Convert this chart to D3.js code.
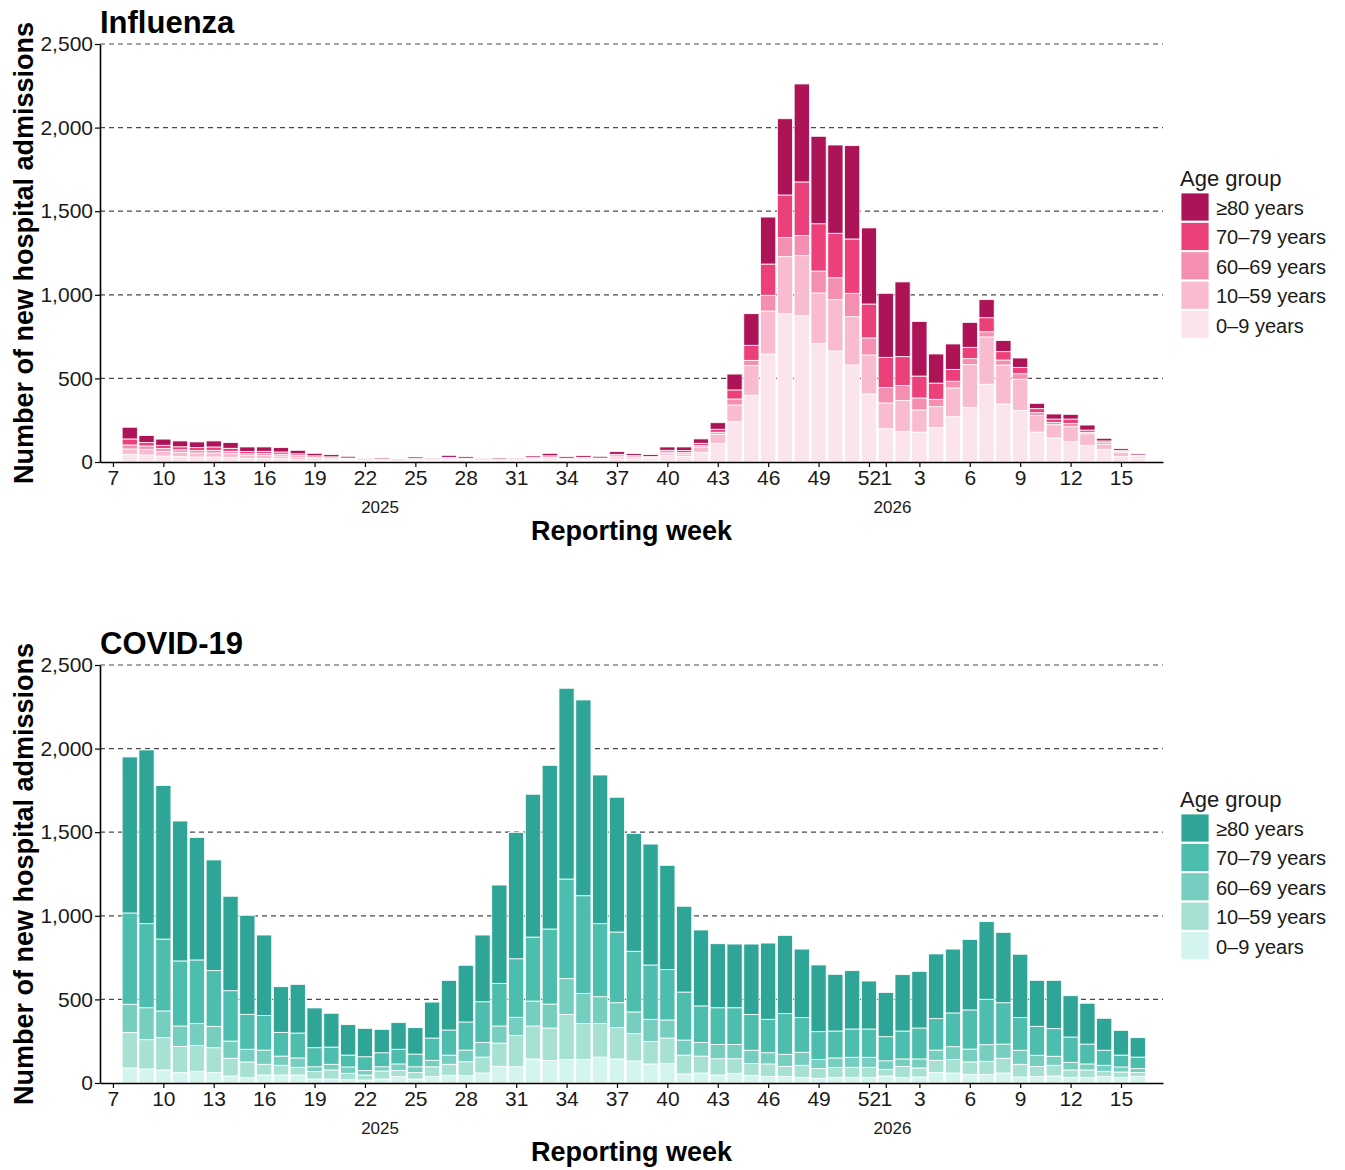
<!DOCTYPE html>
<html>
<head>
<meta charset="utf-8">
<script src="https://cdn.jsdelivr.net/npm/d3@7"></script>
<style>
  body { margin: 0; background: #fff; }
  svg { display: block; }
  text { font-family: "Liberation Sans", Arial, Helvetica, sans-serif; }
</style>
</head>
<body>
<svg></svg>
<script>
var width = 1345;
var height = 1170;

// reporting weeks: 2025 W8..W52, then 2026 W1..W16
var weeks2025 = d3.range(8, 53);
var weeks2026 = d3.range(1, 17);

var xTicks2025 = [7, 10, 13, 16, 19, 22, 25, 28, 31, 34, 37, 40, 43, 46, 49, 52];
var xTicks2026 = [1, 3, 6, 9, 12, 15];
var yTicks = [0, 500, 1000, 1500, 2000, 2500];

var ageKeys = ['a0_9', 'a10_59', 'a60_69', 'a70_79', 'a80'];
var ageLabels = ['0–9 years', '10–59 years', '60–69 years', '70–79 years', '≥80 years'];

// ---- Influenza (rows: 2025 W8-W52, then 2026 W1-W16)
var flu0to9 = [46, 42, 36, 32, 30, 30, 28, 20, 20, 20, 16, 12, 10, 8, 5, 6, 3, 7, 5, 9, 8, 5, 6, 5, 9,
  13, 8, 10, 9, 18, 15, 13, 40, 34, 58, 112, 241, 399, 646, 887, 875, 708, 664, 580, 407,
  199, 183, 179, 207, 271, 327, 465, 347, 309, 179, 144, 122, 100, 76, 32, 24];
var flu10to59 = [32, 34, 28, 26, 24, 24, 22, 18, 18, 16, 13, 10, 8, 6, 4, 4, 3, 5, 4, 8, 6, 4, 4, 4, 7,
  10, 6, 7, 6, 12, 10, 9, 12, 14, 32, 54, 100, 179, 257, 341, 359, 303, 307, 289, 233,
  154, 184, 132, 124, 172, 255, 283, 233, 186, 100, 79, 89, 69, 30, 24, 10];
var flu60to69 = [24, 20, 16, 15, 14, 16, 14, 11, 12, 11, 9, 7, 6, 5, 3, 3, 2, 4, 3, 5, 4, 3, 3, 3, 5,
  6, 4, 5, 4, 7, 6, 5, 8, 8, 8, 12, 36, 30, 94, 114, 120, 131, 131, 140, 102,
  92, 90, 72, 44, 40, 36, 31, 30, 33, 16, 14, 20, 9, 10, 6, 4];
var flu70to79 = [36, 20, 20, 18, 18, 20, 18, 14, 14, 13, 11, 8, 7, 5, 3, 4, 2, 5, 4, 6, 5, 3, 4, 4, 5,
  8, 5, 6, 5, 9, 7, 6, 10, 12, 14, 18, 54, 90, 187, 255, 321, 283, 266, 325, 203,
  181, 173, 131, 97, 71, 68, 84, 50, 38, 24, 20, 26, 13, 10, 8, 4];
var flu80plus = [70, 42, 37, 35, 34, 36, 34, 27, 26, 26, 21, 15, 13, 10, 5, 7, 4, 9, 6, 12, 9, 5, 7, 6, 10,
  15, 9, 10, 10, 16, 12, 11, 20, 22, 26, 39, 95, 189, 281, 456, 586, 523, 528, 558, 455,
  383, 447, 327, 174, 152, 149, 108, 66, 56, 32, 30, 28, 30, 16, 10, 8];

// ---- COVID-19
var cov0to9 = [90, 84, 78, 62, 70, 62, 42, 32, 48, 48, 48, 24, 24, 20, 18, 24, 38, 24, 38, 46, 44, 60, 100, 97, 144,
  134, 140, 140, 155, 144, 132, 114, 116, 54, 60, 48, 58, 46, 38, 38, 34, 28, 34, 34, 34,
  42, 32, 36, 64, 60, 52, 50, 60, 36, 38, 42, 34, 32, 38, 34, 38];
var cov10to59 = [213, 175, 193, 157, 155, 149, 106, 94, 64, 58, 46, 44, 54, 38, 30, 48, 36, 38, 59, 66, 83, 95, 139, 188, 197,
  195, 269, 215, 200, 187, 163, 135, 153, 113, 101, 97, 87, 70, 76, 62, 72, 58, 58, 60, 60,
  40, 66, 54, 72, 80, 74, 80, 88, 76, 60, 64, 44, 46, 32, 32, 24];
var cov60to69 = [168, 191, 160, 122, 130, 128, 103, 76, 85, 55, 56, 29, 34, 38, 26, 25, 40, 35, 39, 55, 70, 88, 102, 108, 149,
  143, 215, 181, 161, 149, 130, 132, 108, 90, 82, 86, 86, 80, 67, 72, 78, 54, 58, 60, 60,
  51, 46, 54, 61, 77, 77, 99, 85, 84, 68, 54, 46, 36, 36, 30, 24];
var cov70to79 = [546, 503, 430, 389, 381, 333, 301, 209, 206, 142, 149, 114, 103, 71, 83, 84, 88, 76, 133, 150, 168, 243, 255, 350, 383,
  449, 596, 584, 437, 423, 363, 325, 301, 287, 218, 219, 219, 213, 200, 243, 207, 167, 161, 169, 169,
  144, 167, 185, 188, 202, 234, 272, 247, 195, 173, 165, 151, 119, 90, 71, 69];
var cov80plus = [933, 1039, 919, 837, 733, 662, 565, 592, 482, 273, 291, 238, 202, 182, 170, 140, 159, 158, 215, 297, 339, 399, 588, 756, 854,
  979, 1141, 1171, 889, 806, 705, 723, 624, 513, 454, 383, 381, 422, 456, 468, 410, 399, 339, 349, 287,
  265, 337, 339, 387, 382, 422, 464, 421, 379, 275, 289, 247, 244, 191, 148, 116];

var fluColors = ['#fce4ec', '#f8bbd0', '#f48fb1', '#ec407a', '#ad1457'];
var covColors = ['#d3f4ef', '#a6e1d4', '#75cebf', '#4dbdad', '#2ea597'];

// slot 0 = 2025 week 7 (empty), week 52 = slot 45, 2026 week 1 = slot 46
function slotIndex(year, week) { return year === 2025 ? week - 7 : 45 + week; }

var slots = weeks2025.map(function (w) { return { year: 2025, week: w }; })
  .concat(weeks2026.map(function (w) { return { year: 2026, week: w }; }));

var tickSlots = xTicks2025.map(function (w) { return { year: 2025, week: w }; })
  .concat(xTicks2026.map(function (w) { return { year: 2026, week: w }; }));

var left = 100, right = 1163, plotH = 418, barW = 15.2;

var svg = d3.select('svg').attr('width', width).attr('height', height);
svg.append('rect').attr('width', width).attr('height', height).attr('fill', '#fff');

function drawPanel(top, title, series, colors) {
  var bottom = top + plotH;
  var x = d3.scaleLinear().domain([-0.77, 62.5]).range([left, right]);
  var y = d3.scaleLinear().domain([0, 2500]).range([bottom, top]);

  var rows = slots.map(function (s, i) {
    var r = { idx: slotIndex(s.year, s.week) };
    ageKeys.forEach(function (k, j) { r[k] = series[j][i]; });
    return r;
  });
  var stacked = d3.stack().keys(ageKeys)(rows);

  var g = svg.append('g');

  // dashed grid
  g.append('g').selectAll('line')
    .data(yTicks.slice(1))
    .join('line')
      .attr('x1', left).attr('x2', right)
      .attr('y1', function (d) { return y(d); })
      .attr('y2', function (d) { return y(d); })
      .attr('stroke', '#4a4a4a')
      .attr('stroke-width', 1.2)
      .attr('stroke-dasharray', '5,4');

  // stacked bars
  g.append('g').selectAll('g')
    .data(stacked)
    .join('g')
      .attr('fill', function (d, i) { return colors[i]; })
    .selectAll('rect')
    .data(function (d) { return d; })
    .join('rect')
      .attr('x', function (d) { return x(d.data.idx) - barW / 2; })
      .attr('width', barW)
      .attr('y', function (d) { return y(d[1]); })
      .attr('height', function (d) { return y(d[0]) - y(d[1]); })
      .attr('stroke', '#fff')
      .attr('stroke-width', 0.8);

  // axes
  var xAxis = d3.axisBottom(x)
    .tickValues(tickSlots.map(function (t) { return slotIndex(t.year, t.week); }))
    .tickFormat(function (d, i) { return tickSlots[i].week; })
    .tickSize(5).tickSizeOuter(0);
  var gx = g.append('g').attr('transform', 'translate(0,' + bottom + ')').call(xAxis);
  gx.selectAll('text').attr('font-size', 21).attr('fill', '#1a1a1a');

  var yAxis = d3.axisLeft(y).tickValues(yTicks).tickFormat(d3.format(','))
    .tickSize(5).tickSizeOuter(0).tickPadding(2);
  var gy = g.append('g').attr('transform', 'translate(' + left + ',0)').call(yAxis);
  gy.selectAll('text').attr('font-size', 21).attr('fill', '#1a1a1a');

  [gx, gy].forEach(function (a) {
    a.select('.domain').attr('stroke', '#000').attr('stroke-width', 1.6);
    a.selectAll('.tick line').attr('stroke', '#000').attr('stroke-width', 1.2);
  });

  // year labels under the week ticks
  g.selectAll('.year')
    .data([{ label: '2025', pos: 15.9 }, { label: '2026', pos: 46.4 }])
    .join('text')
      .attr('x', function (d) { return x(d.pos); })
      .attr('y', bottom + 51)
      .attr('text-anchor', 'middle')
      .attr('font-size', 17)
      .attr('fill', '#1a1a1a')
      .text(function (d) { return d.label; });

  g.append('text')
    .attr('x', (left + right) / 2).attr('y', bottom + 78)
    .attr('text-anchor', 'middle')
    .attr('font-size', 27).attr('font-weight', 'bold')
    .text('Reporting week');

  g.append('text')
    .attr('transform', 'translate(33,' + (top + bottom) / 2 + ') rotate(-90)')
    .attr('text-anchor', 'middle')
    .attr('font-size', 27).attr('font-weight', 'bold')
    .text('Number of new hospital admissions');

  g.append('text')
    .attr('x', left).attr('y', top - 11)
    .attr('font-size', 31).attr('font-weight', 'bold')
    .text(title);

  // legend, top entry is the oldest group
  var leg = g.append('g').attr('transform', 'translate(1181,' + (top + 142) + ')');
  leg.append('text').attr('x', -1).attr('y', 0).attr('font-size', 22).attr('fill', '#1a1a1a').text('Age group');
  var order = [4, 3, 2, 1, 0];
  var item = leg.selectAll('.item')
    .data(order)
    .join('g')
      .attr('transform', function (d, i) { return 'translate(0,' + (7 + i * 29.4) + ')'; });
  item.append('rect')
    .attr('width', 28).attr('height', 28)
    .attr('fill', function (d) { return colors[d]; })
    .attr('stroke', '#fff').attr('stroke-width', 0.8);
  item.append('text')
    .attr('x', 35).attr('y', 15)
    .attr('dominant-baseline', 'central')
    .attr('font-size', 20).attr('fill', '#1a1a1a')
    .text(function (d) { return ageLabels[d]; });
}

drawPanel(44, 'Influenza', [flu0to9, flu10to59, flu60to69, flu70to79, flu80plus], fluColors);
drawPanel(665, 'COVID-19', [cov0to9, cov10to59, cov60to69, cov70to79, cov80plus], covColors);
</script>
</body>
</html>
